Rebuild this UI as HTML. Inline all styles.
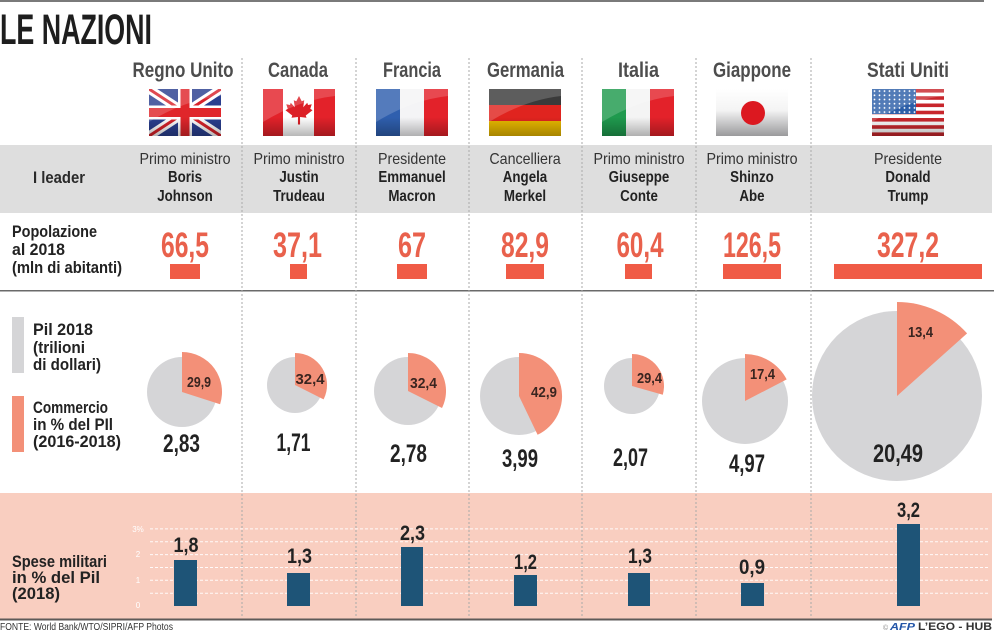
<!DOCTYPE html>
<html><head><meta charset="utf-8"><style>
html,body{margin:0;padding:0;background:#fff;}
svg{display:block;}
text{font-family:"Liberation Sans",sans-serif;}
</style></head><body>
<svg width="994" height="635" viewBox="0 0 994 635" xmlns="http://www.w3.org/2000/svg">
<defs>
<linearGradient id="shade" x1="0" y1="0" x2="0" y2="1">
<stop offset="0" stop-color="#000" stop-opacity="0"/>
<stop offset="0.6" stop-color="#000" stop-opacity="0"/>
<stop offset="1" stop-color="#000" stop-opacity="0.28"/>
</linearGradient>
<linearGradient id="jp" x1="0" y1="0" x2="0" y2="1">
<stop offset="0" stop-color="#fff"/>
<stop offset="0.45" stop-color="#f4f4f4"/>
<stop offset="1" stop-color="#9a9a9c"/>
</linearGradient>
<clipPath id="ukc"><rect x="149" y="89" width="72" height="47"/></clipPath>
<pattern id="stars" x="872" y="89" width="5" height="4.2" patternUnits="userSpaceOnUse">
<circle cx="2.5" cy="2.1" r="0.9" fill="#fff"/>
</pattern>
</defs>

<!-- top line -->
<rect x="0" y="0" width="984" height="2" fill="#7a7a7a"/>

<!-- title -->
<text x="0" y="44" font-size="43" font-weight="bold" fill="#1e1e1e" textLength="152" lengthAdjust="spacingAndGlyphs">LE NAZIONI</text>

<!-- bands -->
<rect x="0" y="145" width="992" height="68" fill="#dedede"/>
<rect x="0" y="290" width="994" height="1.5" fill="#6a6a6a"/>
<rect x="0" y="493" width="992" height="126" fill="#f9cec0"/>
<rect x="0" y="618.5" width="992" height="2" fill="#5e5a58"/>

<!-- separators -->
<g stroke="#a9a9a9" stroke-width="1" stroke-dasharray="2,2">
<line x1="242" y1="58" x2="242" y2="618"/>
<line x1="356" y1="58" x2="356" y2="618"/>
<line x1="469" y1="58" x2="469" y2="618"/>
<line x1="582" y1="58" x2="582" y2="618"/>
<line x1="696" y1="58" x2="696" y2="618"/>
<line x1="811" y1="58" x2="811" y2="618"/>
</g>

<!-- country names -->
<g font-size="21" font-weight="bold" fill="#4d4d4d" text-anchor="middle">
<text x="183" y="77" textLength="101" lengthAdjust="spacingAndGlyphs">Regno Unito</text>
<text x="298" y="77" textLength="60" lengthAdjust="spacingAndGlyphs">Canada</text>
<text x="412" y="77" textLength="58" lengthAdjust="spacingAndGlyphs">Francia</text>
<text x="525.5" y="77" textLength="77" lengthAdjust="spacingAndGlyphs">Germania</text>
<text x="638.5" y="77" textLength="41" lengthAdjust="spacingAndGlyphs">Italia</text>
<text x="752" y="77" textLength="78" lengthAdjust="spacingAndGlyphs">Giappone</text>
<text x="908" y="77" textLength="82" lengthAdjust="spacingAndGlyphs">Stati Uniti</text>
</g>

<!-- flags -->
<!-- UK -->
<g clip-path="url(#ukc)">
<rect x="149" y="89" width="72" height="47" fill="#2a3f8f"/>
<line x1="149" y1="89" x2="221" y2="136" stroke="#fff" stroke-width="9"/>
<line x1="221" y1="89" x2="149" y2="136" stroke="#fff" stroke-width="9"/>
<line x1="149" y1="89" x2="221" y2="136" stroke="#d8222a" stroke-width="3"/>
<line x1="221" y1="89" x2="149" y2="136" stroke="#d8222a" stroke-width="3"/>
<rect x="178" y="89" width="14" height="47" fill="#fff"/>
<rect x="149" y="105.5" width="72" height="14" fill="#fff"/>
<rect x="180.5" y="89" width="9" height="47" fill="#e0262b"/>
<rect x="149" y="108" width="72" height="9" fill="#e0262b"/>
</g>
<!-- Canada -->
<rect x="263" y="89" width="72" height="47" fill="#fff"/>
<rect x="263" y="89" width="20" height="47" fill="#e3222a"/>
<rect x="314" y="89" width="21" height="47" fill="#e3222a"/>
<polygon transform="translate(299,111) scale(15)" fill="#dc1f26" points="0,-1 0.18,-0.65 0.35,-0.72 0.28,-0.25 0.55,-0.55 0.6,-0.4 0.85,-0.45 0.75,-0.15 0.9,-0.05 0.45,0.3 0.5,0.45 0.07,0.4 0.07,0.9 -0.07,0.9 -0.07,0.4 -0.5,0.45 -0.45,0.3 -0.9,-0.05 -0.75,-0.15 -0.85,-0.45 -0.6,-0.4 -0.55,-0.55 -0.28,-0.25 -0.35,-0.72 -0.18,-0.65"/>
<!-- France -->
<rect x="376" y="89" width="24" height="47" fill="#2f5fae"/>
<rect x="400" y="89" width="24" height="47" fill="#f4f4f6"/>
<rect x="424" y="89" width="24" height="47" fill="#e3222a"/>
<!-- Germany -->
<rect x="489" y="89" width="72" height="16" fill="#3a3a3a"/>
<rect x="489" y="105" width="72" height="16" fill="#e0241f"/>
<rect x="489" y="121" width="72" height="15" fill="#e8b800"/>
<!-- Italy -->
<rect x="602" y="89" width="24" height="47" fill="#1f9a4e"/>
<rect x="626" y="89" width="24" height="47" fill="#f4f4f4"/>
<rect x="650" y="89" width="24" height="47" fill="#e3222a"/>
<!-- Japan -->
<rect x="716" y="89" width="72" height="47" fill="url(#jp)"/>
<circle cx="753" cy="113" r="12" fill="#dc1820"/>
<!-- USA -->
<rect x="872" y="89" width="72" height="47" fill="#fff"/>
<g fill="#c8262c">
<rect x="872" y="89" width="72" height="3.6"/>
<rect x="872" y="96.2" width="72" height="3.6"/>
<rect x="872" y="103.5" width="72" height="3.6"/>
<rect x="872" y="110.7" width="72" height="3.6"/>
<rect x="872" y="118" width="72" height="3.6"/>
<rect x="872" y="125.2" width="72" height="3.6"/>
<rect x="872" y="132.4" width="72" height="3.6"/>
</g>
<rect x="872" y="89" width="44" height="25" fill="#2c5ea8"/>
<rect x="872" y="89" width="44" height="25" fill="url(#stars)"/>

<!-- gloss/shade overlays -->
<g>
<rect x="149" y="89" width="72" height="47" fill="url(#shade)"/>
<rect x="263" y="89" width="72" height="47" fill="url(#shade)"/>
<rect x="376" y="89" width="72" height="47" fill="url(#shade)"/>
<rect x="489" y="89" width="72" height="47" fill="url(#shade)"/>
<rect x="602" y="89" width="72" height="47" fill="url(#shade)"/>
<rect x="872" y="89" width="72" height="47" fill="url(#shade)"/>
</g>
<g fill="#fff" fill-opacity="0.18">
<path d="M149,89 H221 V96 Q185,100 149,122 Z"/>
<path d="M263,89 H335 V96 Q299,100 263,122 Z"/>
<path d="M376,89 H448 V96 Q412,100 376,122 Z"/>
<path d="M489,89 H561 V96 Q525,100 489,122 Z"/>
<path d="M602,89 H674 V96 Q638,100 602,122 Z"/>
<path d="M872,89 H944 V96 Q908,100 872,122 Z"/>
</g>

<!-- leader row -->
<text x="59" y="183" font-size="17" font-weight="bold" fill="#2a2a2a" text-anchor="middle" textLength="52" lengthAdjust="spacingAndGlyphs">I leader</text>
<g font-size="15.5" fill="#333" text-anchor="middle">
<g transform="translate(185,164) scale(0.92,1)"><text x="0" y="0">Primo ministro</text></g>
<g transform="translate(299,164) scale(0.92,1)"><text x="0" y="0">Primo ministro</text></g>
<g transform="translate(412,164) scale(0.92,1)"><text x="0" y="0">Presidente</text></g>
<g transform="translate(525,164) scale(0.92,1)"><text x="0" y="0">Cancelliera</text></g>
<g transform="translate(639,164) scale(0.92,1)"><text x="0" y="0">Primo ministro</text></g>
<g transform="translate(752,164) scale(0.92,1)"><text x="0" y="0">Primo ministro</text></g>
<g transform="translate(908,164) scale(0.92,1)"><text x="0" y="0">Presidente</text></g>
</g>
<g font-size="15.5" font-weight="bold" fill="#222" text-anchor="middle">
<g transform="translate(185,0) scale(0.86,1)"><text x="0" y="182">Boris</text><text x="0" y="201">Johnson</text></g>
<g transform="translate(299,0) scale(0.86,1)"><text x="0" y="182">Justin</text><text x="0" y="201">Trudeau</text></g>
<g transform="translate(412,0) scale(0.86,1)"><text x="0" y="182">Emmanuel</text><text x="0" y="201">Macron</text></g>
<g transform="translate(525,0) scale(0.86,1)"><text x="0" y="182">Angela</text><text x="0" y="201">Merkel</text></g>
<g transform="translate(639,0) scale(0.86,1)"><text x="0" y="182">Giuseppe</text><text x="0" y="201">Conte</text></g>
<g transform="translate(752,0) scale(0.86,1)"><text x="0" y="182">Shinzo</text><text x="0" y="201">Abe</text></g>
<g transform="translate(908,0) scale(0.86,1)"><text x="0" y="182">Donald</text><text x="0" y="201">Trump</text></g>
</g>

<!-- population row -->
<g font-size="16.5" font-weight="bold" fill="#222">
<text x="12" y="237" textLength="85" lengthAdjust="spacingAndGlyphs">Popolazione</text>
<text x="12" y="255" textLength="53" lengthAdjust="spacingAndGlyphs">al 2018</text>
<text x="12" y="273" textLength="110" lengthAdjust="spacingAndGlyphs">(mln di abitanti)</text>
</g>
<g font-size="35" font-weight="bold" fill="#e9614c" text-anchor="middle">
<text x="185" y="257" textLength="48" lengthAdjust="spacingAndGlyphs">66,5</text>
<text x="297.5" y="257" textLength="49" lengthAdjust="spacingAndGlyphs">37,1</text>
<text x="412" y="257" textLength="28" lengthAdjust="spacingAndGlyphs">67</text>
<text x="525" y="257" textLength="48" lengthAdjust="spacingAndGlyphs">82,9</text>
<text x="640" y="257" textLength="47" lengthAdjust="spacingAndGlyphs">60,4</text>
<text x="752" y="257" textLength="58" lengthAdjust="spacingAndGlyphs">126,5</text>
<text x="908" y="257" textLength="62" lengthAdjust="spacingAndGlyphs">327,2</text>
</g>
<g fill="#f05b46">
<rect x="170" y="264" width="30" height="15"/>
<rect x="290" y="264" width="17" height="15"/>
<rect x="397" y="264" width="30" height="15"/>
<rect x="506" y="264" width="38" height="15"/>
<rect x="625" y="264" width="27" height="15"/>
<rect x="723" y="264" width="58" height="15"/>
<rect x="834" y="264" width="148" height="15"/>
</g>

<!-- pie legend -->
<rect x="12" y="317" width="12" height="56" fill="#d5d5d7"/>
<rect x="12" y="396" width="12" height="56" fill="#f39078"/>
<g font-size="17" font-weight="bold" fill="#222">
<text x="33" y="335" textLength="60" lengthAdjust="spacingAndGlyphs">Pil 2018</text>
<text x="33" y="353" textLength="52" lengthAdjust="spacingAndGlyphs">(trilioni</text>
<text x="33" y="370" textLength="68" lengthAdjust="spacingAndGlyphs">di dollari)</text>
<text x="33" y="413" textLength="75" lengthAdjust="spacingAndGlyphs">Commercio</text>
<text x="33" y="430" textLength="80" lengthAdjust="spacingAndGlyphs">in % del PIl</text>
<text x="33" y="447" textLength="88" lengthAdjust="spacingAndGlyphs">(2016-2018)</text>
</g>

<!-- pies -->
<g fill="#d5d5d7">
<circle cx="182" cy="392" r="35"/>
<circle cx="295" cy="385" r="28"/>
<circle cx="408" cy="391" r="34"/>
<circle cx="519" cy="396" r="39"/>
<circle cx="632" cy="386" r="28"/>
<circle cx="745" cy="401" r="43"/>
<circle cx="897" cy="396" r="85"/>
</g>
<g fill="#f39078">
<path d="M182,392 L182,352 A40,40 0 0 1 220.1,404.2 Z"/>
<path d="M295,385 L295,353 A32,32 0 0 1 323.6,399.4 Z"/>
<path d="M408,391 L408,353 A38,38 0 0 1 442,408 Z"/>
<path d="M519,396 L519,353 A43,43 0 0 1 537.6,434.8 Z"/>
<path d="M632,386 L632,354 A32,32 0 0 1 662.8,394.7 Z"/>
<path d="M745,401 L745,354 A47,47 0 0 1 786.7,379.4 Z"/>
<path d="M897,396 L897,302 A94,94 0 0 1 967.1,333.4 Z"/>
</g>
<g font-size="14.5" font-weight="bold" fill="#3a2520" text-anchor="middle">
<text x="199" y="387" textLength="24" lengthAdjust="spacingAndGlyphs">29,9</text>
<text x="310" y="384" textLength="29" lengthAdjust="spacingAndGlyphs">32,4</text>
<text x="423.5" y="388" textLength="27" lengthAdjust="spacingAndGlyphs">32,4</text>
<text x="544" y="397" textLength="26" lengthAdjust="spacingAndGlyphs">42,9</text>
<text x="649.5" y="383" textLength="25" lengthAdjust="spacingAndGlyphs">29,4</text>
<text x="762.5" y="379" textLength="25" lengthAdjust="spacingAndGlyphs">17,4</text>
<text x="920.5" y="337" textLength="25" lengthAdjust="spacingAndGlyphs">13,4</text>
</g>
<g font-size="25" font-weight="bold" fill="#222" text-anchor="middle">
<text x="181.5" y="452" textLength="37" lengthAdjust="spacingAndGlyphs">2,83</text>
<text x="293.5" y="451" textLength="34" lengthAdjust="spacingAndGlyphs">1,71</text>
<text x="408.5" y="462" textLength="37" lengthAdjust="spacingAndGlyphs">2,78</text>
<text x="520" y="467" textLength="36" lengthAdjust="spacingAndGlyphs">3,99</text>
<text x="630.5" y="466" textLength="35" lengthAdjust="spacingAndGlyphs">2,07</text>
<text x="747" y="472" textLength="36" lengthAdjust="spacingAndGlyphs">4,97</text>
<text x="898" y="462" textLength="50" lengthAdjust="spacingAndGlyphs">20,49</text>
</g>

<!-- military chart -->
<g font-size="17" font-weight="bold" fill="#222">
<text x="12" y="567" textLength="95" lengthAdjust="spacingAndGlyphs">Spese militari</text>
<text x="12" y="583" textLength="88" lengthAdjust="spacingAndGlyphs">in % del Pil</text>
<text x="12" y="599" textLength="48" lengthAdjust="spacingAndGlyphs">(2018)</text>
</g>
<g stroke="#ffffff" stroke-width="1" stroke-dasharray="3,2" stroke-opacity="0.9">
<line x1="150" y1="593.2" x2="988" y2="593.2"/>
<line x1="150" y1="580.3" x2="988" y2="580.3"/>
<line x1="150" y1="567.5" x2="988" y2="567.5"/>
<line x1="150" y1="554.6" x2="988" y2="554.6"/>
<line x1="150" y1="541.8" x2="988" y2="541.8"/>
<line x1="150" y1="528.9" x2="988" y2="528.9"/>
</g>
<g font-size="8" fill="#ffffff" text-anchor="middle">
<text x="138" y="532">3%</text>
<text x="138" y="557">2</text>
<text x="138" y="583">1</text>
<text x="138" y="608">0</text>
</g>
<g fill="#1e5477">
<rect x="174" y="560" width="23" height="46"/>
<rect x="287" y="573" width="23" height="33"/>
<rect x="401" y="547" width="22" height="59"/>
<rect x="514" y="575" width="23" height="31"/>
<rect x="628" y="573" width="22" height="33"/>
<rect x="741" y="583" width="23" height="23"/>
<rect x="897" y="524" width="23" height="82"/>
</g>
<g font-size="21" font-weight="bold" fill="#222" text-anchor="middle">
<text x="186" y="552" textLength="25" lengthAdjust="spacingAndGlyphs">1,8</text>
<text x="299.5" y="563" textLength="25" lengthAdjust="spacingAndGlyphs">1,3</text>
<text x="412.5" y="540" textLength="25" lengthAdjust="spacingAndGlyphs">2,3</text>
<text x="525.5" y="569" textLength="23" lengthAdjust="spacingAndGlyphs">1,2</text>
<text x="640" y="563" textLength="24" lengthAdjust="spacingAndGlyphs">1,3</text>
<text x="752" y="574" textLength="26" lengthAdjust="spacingAndGlyphs">0,9</text>
<text x="908.5" y="517" textLength="23" lengthAdjust="spacingAndGlyphs">3,2</text>
</g>

<!-- footer -->
<text x="0" y="630" font-size="10" fill="#333" textLength="173" lengthAdjust="spacingAndGlyphs">FONTE: World Bank/WTO/SIPRI/AFP Photos</text>
<text x="883" y="630" font-size="7" fill="#888">©</text>
<text x="890" y="630" font-size="10" font-weight="bold" font-style="italic" fill="#2456a8" textLength="25" lengthAdjust="spacingAndGlyphs">AFP</text>
<text x="918" y="630" font-size="11" font-weight="bold" fill="#333" textLength="74" lengthAdjust="spacingAndGlyphs">L’EGO - HUB</text>
</svg>
</body></html>
